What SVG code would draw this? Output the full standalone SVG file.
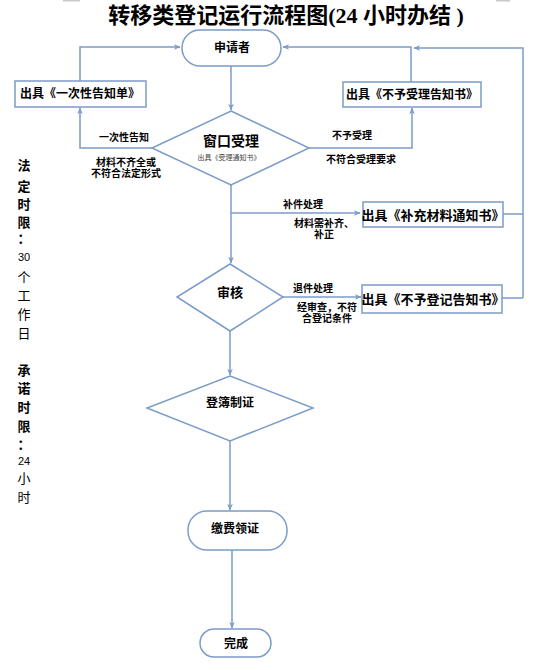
<svg xmlns="http://www.w3.org/2000/svg" width="557" height="670" viewBox="0 0 557 670">
<defs>
<style>
.t{font-family:"Liberation Sans","Noto Sans CJK SC",sans-serif;text-anchor:middle;dominant-baseline:central;fill:#000}
.b{font-weight:bold}
.title{font-family:"Liberation Serif","Noto Sans CJK SC",serif;font-size:22px;font-weight:bold;text-anchor:middle;fill:#000}
.node{fill:#fff;stroke:#7b9cc8;stroke-width:1.5}
.ln{fill:none;stroke:#7b9cc8;stroke-width:1.5}
.lbl{font-size:10px;font-weight:bold}
.side{font-size:13px}
</style>
<marker id="ah" viewBox="0 0 10 10" refX="9" refY="5" markerWidth="7" markerHeight="7" orient="auto" markerUnits="userSpaceOnUse">
<path d="M0,1 L10,5 L0,9 L3,5 Z" fill="#7b9cc8"/>
</marker>
</defs>
<rect width="557" height="670" fill="#fff"/>
<rect x="63" y="0" width="17" height="1.5" fill="#c8c8c8"/>
<rect x="496" y="0" width="14" height="1.5" fill="#c8c8c8"/>
<text class="title" x="286" y="23">转移类登记运行流程图(24 小时办结 )</text>

<g id="side-note">
<text class="t b side" x="24" y="165">法</text>
<text class="t b side" x="24" y="186">定</text>
<text class="t b side" x="24" y="204">时</text>
<text class="t b side" x="24" y="222">限</text>
<text class="t b side" x="24" y="238">：</text>
<text class="t side" x="24" y="257" style="font-size:11px">30</text>
<text class="t side" x="24" y="277">个</text>
<text class="t side" x="24" y="295">工</text>
<text class="t side" x="24" y="314">作</text>
<text class="t side" x="24" y="333">日</text>
<text class="t b side" x="24" y="370">承</text>
<text class="t b side" x="24" y="388">诺</text>
<text class="t b side" x="24" y="407">时</text>
<text class="t b side" x="24" y="426">限</text>
<text class="t b side" x="24" y="444">：</text>
<text class="t side" x="24" y="461" style="font-size:11px">24</text>
<text class="t side" x="24" y="478">小</text>
<text class="t side" x="24" y="497">时</text>
</g>

<g id="connectors">
<line class="ln" x1="231" y1="66" x2="231" y2="110" marker-end="url(#ah)"/>
<polyline class="ln" points="152,148 80,148 80,108" marker-end="url(#ah)"/>
<polyline class="ln" points="80,81 80,47 180,47" marker-end="url(#ah)"/>
<polyline class="ln" points="309,148 412,148 412,108" marker-end="url(#ah)"/>
<polyline class="ln" points="411,82 411,47 283,47" marker-end="url(#ah)"/>
<line class="ln" x1="503" y1="214" x2="523" y2="214"/>
<line class="ln" x1="502" y1="298" x2="523" y2="298"/>
<polyline class="ln" points="523,298 523,48 414,48" marker-end="url(#ah)"/>
<line class="ln" x1="231" y1="185" x2="231" y2="263" marker-end="url(#ah)"/>
<line class="ln" x1="231" y1="213" x2="360" y2="213" marker-end="url(#ah)"/>
<line class="ln" x1="283" y1="297" x2="361" y2="297" marker-end="url(#ah)"/>
<line class="ln" x1="230" y1="331" x2="230" y2="375" marker-end="url(#ah)"/>
<line class="ln" x1="230" y1="441" x2="230" y2="510" marker-end="url(#ah)"/>
<line class="ln" x1="232" y1="550" x2="232" y2="628" marker-end="url(#ah)"/>
<text class="t lbl" x="124" y="137">一次性告知</text>
<text class="t lbl" x="126" y="162">材料不齐全或</text>
<text class="t lbl" x="126" y="173">不符合法定形式</text>
<text class="t lbl" x="352" y="135">不予受理</text>
<text class="t lbl" x="361" y="159">不符合受理要求</text>
<text class="t lbl" x="303" y="204">补件处理</text>
<text class="t lbl" x="324" y="223">材料需补齐、</text>
<text class="t lbl" x="324" y="234">补正</text>
<text class="t lbl" x="313" y="288">退件处理</text>
<text class="t lbl" x="327" y="307">经审查，不符</text>
<text class="t lbl" x="327" y="318">合登记条件</text>
</g>

<g id="applicant">
<rect class="node" x="182" y="30" width="99" height="36" rx="18"/>
<text class="t b" x="232" y="48" style="font-size:12px">申请者</text>
</g>
<g id="window-accept">
<polygon class="node" points="231,111 309,148 231,185 152,148"/>
<text class="t b" x="231" y="141" style="font-size:14px">窗口受理</text>
<text class="t" x="229" y="157" style="font-size:7px;fill:#444">出具《受理通知书》</text>
</g>
<g id="once-notice">
<rect class="node" x="15" y="81" width="131" height="26"/>
<text class="t b" x="80" y="94" style="font-size:12px">出具《一次性告知单》</text>
</g>
<g id="reject-notice">
<rect class="node" x="343" y="82" width="138" height="25"/>
<text class="t b" x="412" y="95" style="font-size:12px">出具《不予受理告知书》</text>
</g>
<g id="supplement-notice">
<rect class="node" x="363" y="202" width="140" height="25"/>
<text class="t b" x="433" y="215" style="font-size:13px">出具《补充材料通知书》</text>
</g>
<g id="review">
<polygon class="node" points="230,264 283,297 230,331 177,297"/>
<text class="t b" x="230" y="292" style="font-size:13px">审核</text>
</g>
<g id="deny-registration">
<rect class="node" x="362" y="285" width="140" height="28"/>
<text class="t b" x="433" y="299" style="font-size:13px">出具《不予登记告知书》</text>
</g>
<g id="register-certify">
<polygon class="node" points="230,376 313,408 230,441 147,408"/>
<text class="t b" x="230" y="403" style="font-size:12px">登簿制证</text>
</g>
<g id="pay-collect">
<rect class="node" x="188" y="511" width="99" height="39" rx="19"/>
<text class="t b" x="235" y="529" style="font-size:12px">缴费领证</text>
</g>
<g id="complete">
<rect class="node" x="200" y="629" width="71" height="28" rx="14"/>
<text class="t b" x="236" y="644" style="font-size:12px">完成</text>
</g>
</svg>
